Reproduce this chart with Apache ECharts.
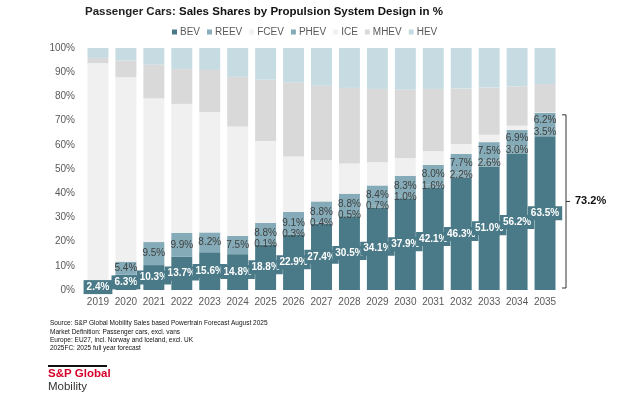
<!DOCTYPE html>
<html>
<head>
<meta charset="utf-8">
<script src="https://cdn.jsdelivr.net/npm/echarts@6/dist/echarts.min.js"></script>
<style>
  html, body { margin: 0; padding: 0; background: #fff; }
  #chart { width: 630px; height: 396px; }
</style>
</head>
<body>
<div id="chart"></div>
<script>
// data (shares in %)
const years = ['2019', '2020', '2021', '2022', '2023', '2024', '2025', '2026', '2027',
  '2028', '2029', '2030', '2031', '2032', '2033', '2034', '2035'];
const bev  = [2.4, 6.3, 10.3, 13.7, 15.6, 14.8, 18.8, 22.9, 27.4, 30.5, 34.1, 37.9, 42.1, 46.3, 51.0, 56.2, 63.5];
const reev = [0, 0, 0, 0, 0, 0, 0.1, 0.3, 0.4, 0.5, 0.7, 1.0, 1.6, 2.2, 2.6, 3.0, 3.5];
const fcev = [0, 0, 0, 0, 0, 0, 0, 0, 0, 0, 0, 0, 0, 0, 0, 0, 0];
const phev = [0.8, 5.4, 9.5, 9.9, 8.2, 7.5, 8.8, 9.1, 8.8, 8.8, 8.4, 8.3, 8.0, 7.7, 7.5, 6.9, 6.2];
const ice  = [90.5, 76.2, 59.4, 53.3, 49.6, 45.3, 33.9, 22.9, 17.1, 12.5, 9.6, 7.2, 5.6, 4.1, 3.1, 1.8, 0.2];
const mhev = [2.2, 6.9, 13.9, 14.4, 17.5, 20.5, 25.3, 30.5, 30.7, 31.2, 30.3, 28.4, 25.8, 23.0, 19.5, 16.2, 11.7];
const hev  = [4.1, 5.2, 6.9, 8.7, 9.1, 11.9, 13.1, 14.3, 15.6, 16.5, 16.9, 17.2, 16.9, 16.7, 16.3, 15.9, 14.9];

const FONT = 'Liberation Sans, Arial, sans-serif';
const colors = {
  BEV: '#4a7a87', REEV: '#8aafba', FCEV: '#f2f2f2', PHEV: '#84abb7',
  ICE: '#f0f0f0', MHEV: '#d9d9d9', HEV: '#c6dce2'
};

// electrified total (BEV + REEV + PHEV) for the bracket on the last year
const last = years.length - 1;
const total = +(bev[last] + reev[last] + phev[last]).toFixed(1);

function pct(v) { return v.toFixed(1) + '%'; }

function barSeries(name, data, label) {
  return {
    name: name,
    type: 'bar',
    stack: 'all',
    barCategoryGap: '25%',
    data: data,
    itemStyle: { color: colors[name] },
    label: label || { show: false },
    emphasis: { disabled: true }
  };
}

const smallLabel = (minVal) => ({
  show: true,
  position: 'inside',
  color: '#404040',
  fontSize: 10,
  fontFamily: FONT,
  formatter: p => (p.value > minVal ? pct(p.value) : '')
});

const option = {
  animation: false,
  title: {
    text: '{a|Passenger Cars: }{b|Sales Shares by Propulsion System Design in %}',
    left: 85,
    top: 6,
    padding: 0,
    textStyle: {
      rich: {
        a: { fontSize: 11.5, fontFamily: FONT, color: '#222' },
        b: { fontSize: 11.5, fontFamily: FONT, color: '#111', fontWeight: 'bold' }
      }
    }
  },
  legend: {
    data: ['BEV', 'REEV', 'FCEV', 'PHEV', 'ICE', 'MHEV', 'HEV'],
    left: 172,
    top: 27,
    padding: 0,
    icon: 'rect',
    itemWidth: 5,
    itemHeight: 5,
    itemGap: 7,
    textStyle: { fontSize: 10, fontFamily: FONT, color: '#595959', padding: [0, 0, 0, -2] }
  },
  grid: { left: 84, right: 71, top: 48, bottom: 106 },
  xAxis: {
    type: 'category',
    data: years,
    axisLine: { show: false },
    axisTick: { show: false },
    axisLabel: { interval: 0, fontSize: 10, fontFamily: FONT, color: '#595959', margin: 7 }
  },
  yAxis: {
    type: 'value',
    min: 0,
    max: 100,
    interval: 10,
    splitLine: { show: false },
    axisLabel: { formatter: '{value}%', fontSize: 10, fontFamily: FONT, color: '#595959', margin: 9 }
  },
  series: [
    barSeries('BEV', bev, {
      show: true,
      position: 'inside',
      color: '#fff',
      fontSize: 10,
      fontWeight: 'bold',
      fontFamily: FONT,
      backgroundColor: colors.BEV,
      padding: [2, 3],
      formatter: p => pct(p.value)
    }),
    barSeries('REEV', reev, smallLabel(0)),
    barSeries('FCEV', fcev),
    barSeries('PHEV', phev, smallLabel(2)),
    barSeries('ICE', ice),
    barSeries('MHEV', mhev),
    barSeries('HEV', hev),
    {
      // bracket + total for the last year
      type: 'custom',
      silent: true,
      clip: false,
      data: [[last, total]],
      renderItem: function (params, api) {
        const top = api.coord([api.value(0), api.value(1)]);
        const bot = api.coord([api.value(0), 0]);
        const x = top[0] + api.size([1, 0])[0] / 2 + 7;
        const mid = (top[1] + bot[1]) / 2;
        return {
          type: 'group',
          children: [
            {
              type: 'polyline',
              shape: { points: [[x - 4, top[1] + 2], [x, top[1] + 2], [x, bot[1] - 2], [x - 4, bot[1] - 2]] },
              style: { stroke: '#333', lineWidth: 1, fill: null }
            },
            {
              type: 'line',
              shape: { x1: x, y1: mid, x2: x + 4, y2: mid },
              style: { stroke: '#333', lineWidth: 1 }
            },
            {
              type: 'text',
              style: {
                x: x + 9, y: mid,
                text: pct(api.value(1)),
                verticalAlign: 'middle',
                font: 'bold 11px ' + FONT,
                fill: '#111'
              }
            }
          ]
        };
      }
    }
  ],
  graphic: [
    {
      type: 'group',
      left: 50,
      top: 320,
      children: [
        'Source: S&P Global Mobility Sales based Powertrain Forecast August 2025',
        'Market Definition: Passenger cars, excl. vans',
        'Europe: EU27, incl. Norway and Iceland, excl. UK',
        '2025FC: 2025 full year forecast'
      ].map((t, i) => ({
        type: 'text',
        y: i * 8.4,
        style: { text: t, font: '6.5px ' + FONT, fill: '#111' }
      }))
    },
    {
      type: 'rect',
      left: 48,
      top: 365,
      shape: { width: 59, height: 2 },
      style: { fill: '#111' }
    },
    {
      type: 'text',
      left: 48,
      top: 368,
      style: { text: 'S&P Global', font: 'bold 11.5px ' + FONT, fill: '#d6002a' }
    },
    {
      type: 'text',
      left: 48,
      top: 381,
      style: { text: 'Mobility', font: '11.5px ' + FONT, fill: '#333' }
    }
  ]
};

const chart = echarts.init(document.getElementById('chart'));
chart.setOption(option);
</script>
</body>
</html>
